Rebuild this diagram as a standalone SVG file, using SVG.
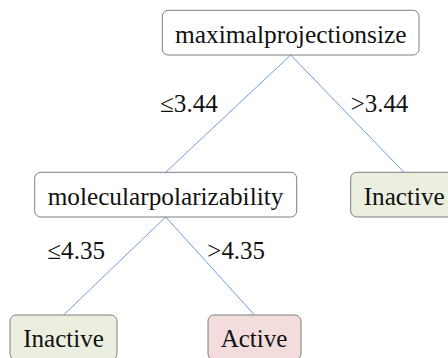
<svg xmlns="http://www.w3.org/2000/svg" width="448" height="358" viewBox="0 0 448 358">
  <style>
    .box { stroke: #7f7f7f; stroke-width: 1; }
    .split { fill: #ffffff; }
    .inactive { fill: #ebefdf; }
    .active { fill: #f2dcdc; }
    .edge { stroke: #6f9be0; stroke-width: 1; fill: none; }
    .lbl { font-family: "Liberation Serif", "DejaVu Serif", "Noto Serif", serif; font-size: 25px; fill: #111; text-anchor: middle; }
  </style>
  <rect width="448" height="358" fill="#ffffff"/>

  <!-- connectors and their split labels -->
  <g id="edges">
    <line class="edge" x1="290.7" y1="55" x2="165.7" y2="172.3"/>
    <line class="edge" x1="290.7" y1="55" x2="404" y2="172.3"/>
    <line class="edge" x1="165.7" y1="217" x2="63.5" y2="315"/>
    <line class="edge" x1="165.7" y1="217" x2="254.5" y2="315"/>
    <text class="lbl" x="189" y="112" textLength="58" lengthAdjust="spacingAndGlyphs">≤3.44</text>
    <text class="lbl" x="379.5" y="112" textLength="57.7" lengthAdjust="spacingAndGlyphs">&gt;3.44</text>
    <text class="lbl" x="76.2" y="259" textLength="57.7" lengthAdjust="spacingAndGlyphs">≤4.35</text>
    <text class="lbl" x="236.2" y="259" textLength="57.7" lengthAdjust="spacingAndGlyphs">&gt;4.35</text>
  </g>

  <g id="root">
    <rect class="box split" x="162.3" y="10.3" width="256.7" height="44.7" rx="6"/>
    <text class="lbl" x="290.8" y="42.7" textLength="231.7" lengthAdjust="spacingAndGlyphs">maximalprojectionsize</text>
  </g>

  <g id="polarizability">
    <rect class="box split" x="34.7" y="172.3" width="262" height="44.7" rx="6"/>
    <text class="lbl" x="165.5" y="205" textLength="235.7" lengthAdjust="spacingAndGlyphs">molecularpolarizability</text>
  </g>

  <g id="leaf-right">
    <rect class="box inactive" x="350.7" y="172.3" width="107" height="44.7" rx="6"/>
    <text class="lbl" x="404.2" y="205" textLength="81" lengthAdjust="spacingAndGlyphs">Inactive</text>
  </g>

  <g id="leaf-low">
    <rect class="box inactive" x="10" y="315" width="107" height="44.7" rx="6"/>
    <text class="lbl" x="63.6" y="347" textLength="80.7" lengthAdjust="spacingAndGlyphs">Inactive</text>
  </g>

  <g id="leaf-high">
    <rect class="box active" x="208" y="315" width="93" height="44.7" rx="6"/>
    <text class="lbl" x="254" y="347" textLength="66.7" lengthAdjust="spacingAndGlyphs">Active</text>
  </g>
</svg>
